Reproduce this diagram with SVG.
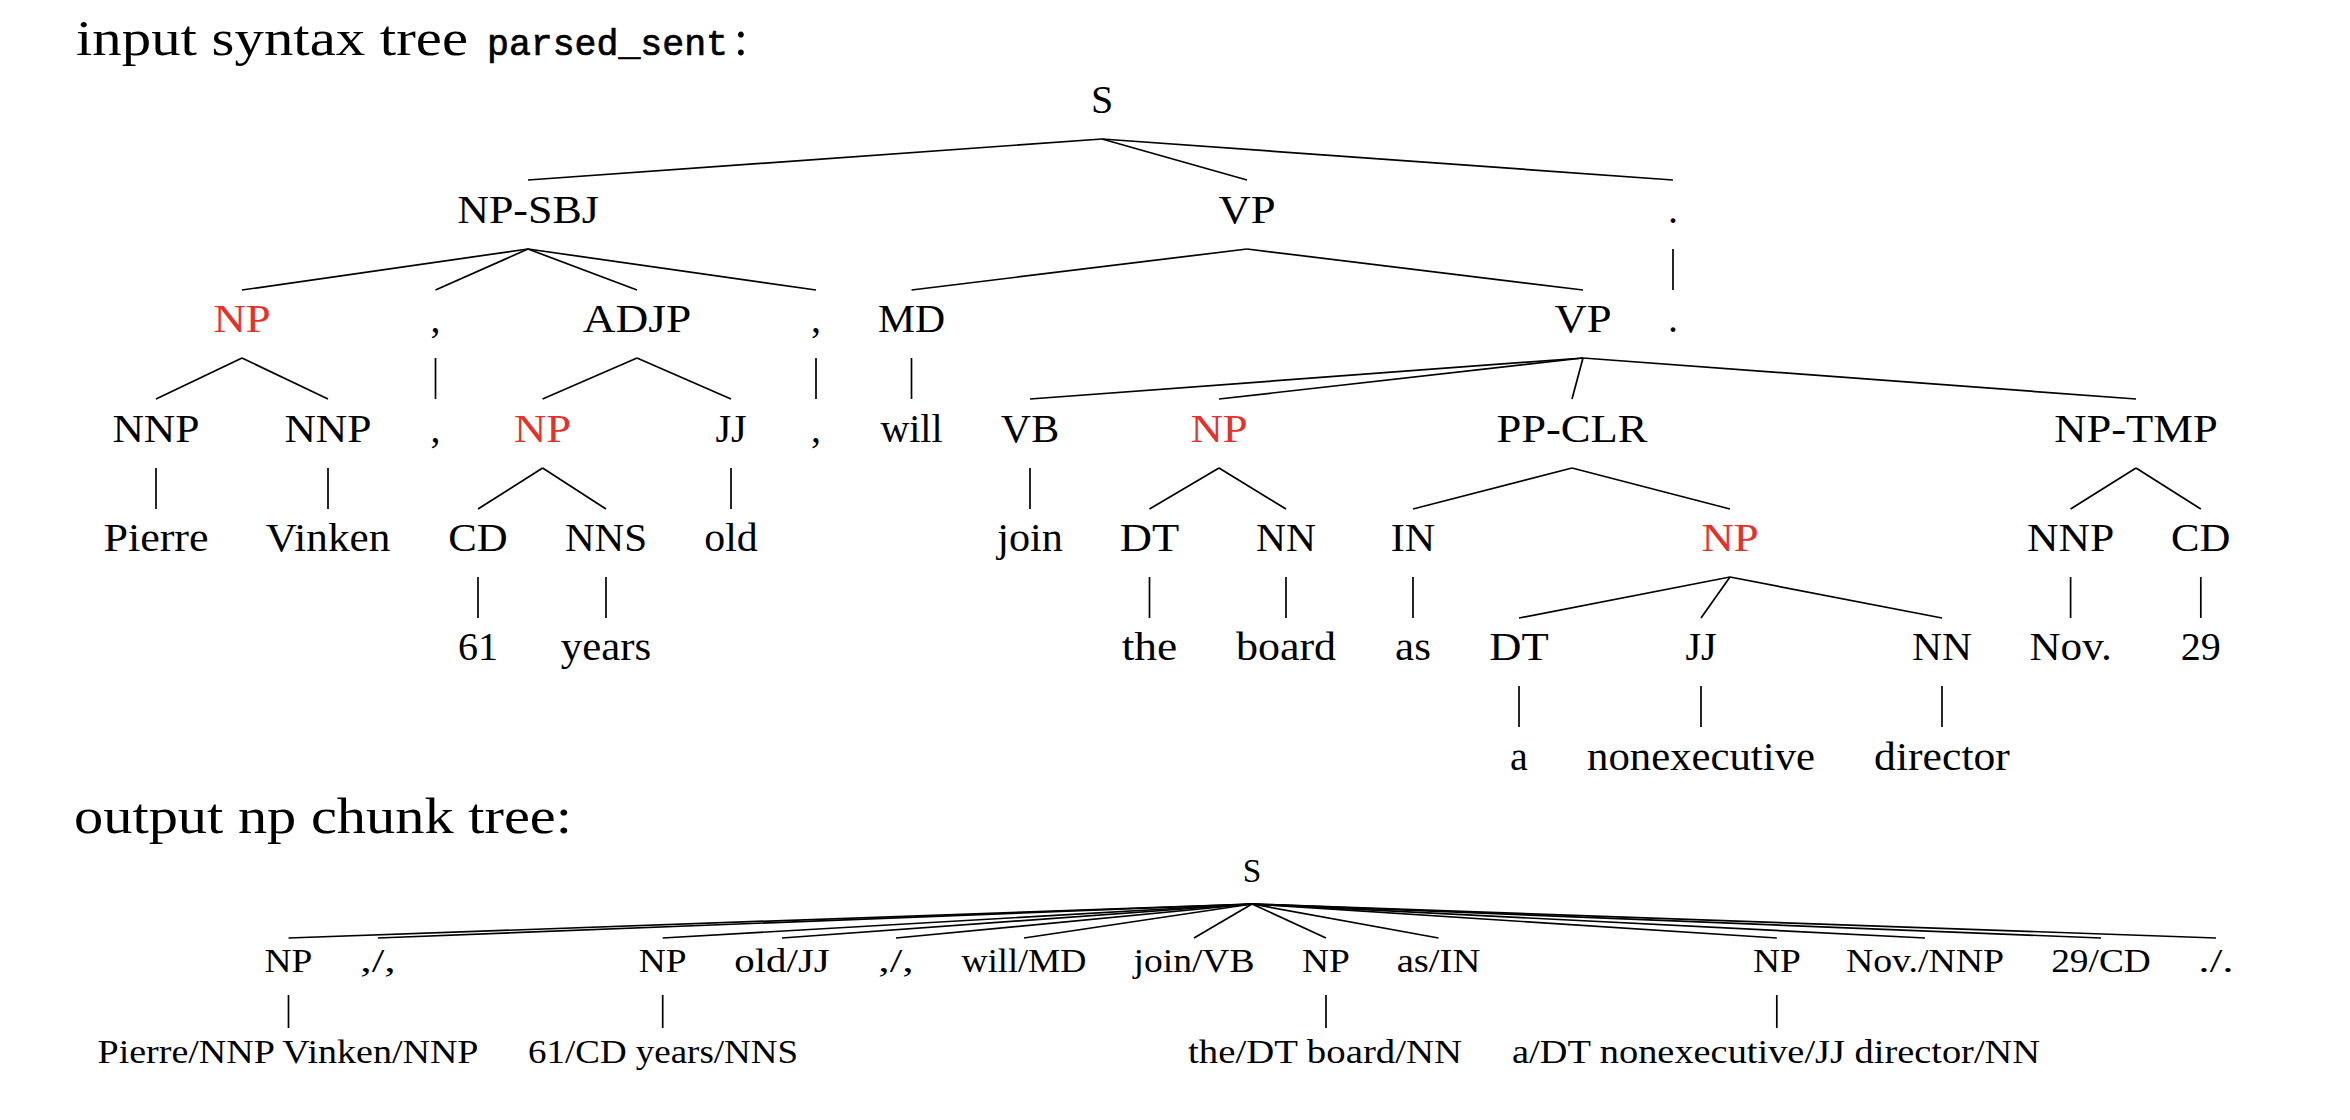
<svg xmlns="http://www.w3.org/2000/svg" width="2350" height="1120" viewBox="0 0 2350 1120">
<style>
text{font-family:"Liberation Serif","Times New Roman",serif;fill:#000}
.t{font-size:40px;text-anchor:middle}
.b{font-size:33.4px;text-anchor:middle}
.h{font-size:50px}
.tt{font-family:"Liberation Mono","Courier New",monospace;font-size:36.5px;stroke:#000;stroke-width:0.7}
.r{fill:#e8302a}
#edges line{stroke:#000;stroke-width:1.7;stroke-linecap:butt}
</style>
<rect width="2350" height="1120" fill="#fff"/>
<g id="title1">
<text class="h" x="76" y="55" textLength="392" lengthAdjust="spacingAndGlyphs">input syntax tree</text>
<text class="tt" x="487" y="55">parsed_sent</text>
<text class="h" x="734" y="55">:</text>
</g>
<g id="title2">
<text class="h" x="74" y="833" textLength="498" lengthAdjust="spacingAndGlyphs">output np chunk tree:</text>
</g>
<g id="edges">
<line x1="1102" y1="139" x2="528" y2="180"/>
<line x1="1102" y1="139" x2="1247" y2="180"/>
<line x1="1102" y1="139" x2="1673" y2="180"/>
<line x1="528" y1="249" x2="242" y2="290"/>
<line x1="528" y1="249" x2="435.5" y2="290"/>
<line x1="528" y1="249" x2="637" y2="290"/>
<line x1="528" y1="249" x2="816" y2="290"/>
<line x1="1247" y1="249" x2="911.5" y2="290"/>
<line x1="1247" y1="249" x2="1583" y2="290"/>
<line x1="1673" y1="249" x2="1673" y2="290"/>
<line x1="242" y1="358" x2="156" y2="399"/>
<line x1="242" y1="358" x2="328" y2="399"/>
<line x1="435.5" y1="358" x2="435.5" y2="399"/>
<line x1="637" y1="358" x2="542.6" y2="399"/>
<line x1="637" y1="358" x2="731" y2="399"/>
<line x1="816" y1="358" x2="816" y2="399"/>
<line x1="911.5" y1="358" x2="911.5" y2="399"/>
<line x1="1583" y1="358" x2="1030" y2="399"/>
<line x1="1583" y1="358" x2="1219" y2="399"/>
<line x1="1583" y1="358" x2="1572" y2="399"/>
<line x1="1583" y1="358" x2="2136" y2="399"/>
<line x1="156" y1="468" x2="156" y2="509"/>
<line x1="328" y1="468" x2="328" y2="509"/>
<line x1="542.6" y1="468" x2="478" y2="509"/>
<line x1="542.6" y1="468" x2="606" y2="509"/>
<line x1="731" y1="468" x2="731" y2="509"/>
<line x1="1030" y1="468" x2="1030" y2="509"/>
<line x1="1219" y1="468" x2="1149.5" y2="509"/>
<line x1="1219" y1="468" x2="1286" y2="509"/>
<line x1="1572" y1="468" x2="1413" y2="509"/>
<line x1="1572" y1="468" x2="1730" y2="509"/>
<line x1="2136" y1="468" x2="2070.6" y2="509"/>
<line x1="2136" y1="468" x2="2200.8" y2="509"/>
<line x1="478" y1="577" x2="478" y2="618"/>
<line x1="606" y1="577" x2="606" y2="618"/>
<line x1="1149.5" y1="577" x2="1149.5" y2="618"/>
<line x1="1286" y1="577" x2="1286" y2="618"/>
<line x1="1413" y1="577" x2="1413" y2="618"/>
<line x1="1730" y1="577" x2="1519" y2="618"/>
<line x1="1730" y1="577" x2="1701" y2="618"/>
<line x1="1730" y1="577" x2="1942" y2="618"/>
<line x1="2070.6" y1="577" x2="2070.6" y2="618"/>
<line x1="2200.8" y1="577" x2="2200.8" y2="618"/>
<line x1="1519" y1="686" x2="1519" y2="727"/>
<line x1="1701" y1="686" x2="1701" y2="727"/>
<line x1="1942" y1="686" x2="1942" y2="727"/>
<line x1="1252" y1="904" x2="288.5" y2="938"/>
<line x1="1252" y1="904" x2="378" y2="938"/>
<line x1="1252" y1="904" x2="662.7" y2="938"/>
<line x1="1252" y1="904" x2="782" y2="938"/>
<line x1="1252" y1="904" x2="896" y2="938"/>
<line x1="1252" y1="904" x2="1024" y2="938"/>
<line x1="1252" y1="904" x2="1194" y2="938"/>
<line x1="1252" y1="904" x2="1326" y2="938"/>
<line x1="1252" y1="904" x2="1438.5" y2="938"/>
<line x1="1252" y1="904" x2="1776.8" y2="938"/>
<line x1="1252" y1="904" x2="1925" y2="938"/>
<line x1="1252" y1="904" x2="2101" y2="938"/>
<line x1="1252" y1="904" x2="2216" y2="938"/>
<line x1="288.5" y1="995" x2="288.5" y2="1028"/>
<line x1="662.7" y1="995" x2="662.7" y2="1028"/>
<line x1="1326" y1="995" x2="1326" y2="1028"/>
<line x1="1776.8" y1="995" x2="1776.8" y2="1028"/>
</g>
<g id="top-tree">
<g id="t_S"><text class="t" x="1102" y="113">S</text></g>
<g id="t_NPSBJ"><text class="t" x="528" y="223" textLength="141.7" lengthAdjust="spacingAndGlyphs">NP-SBJ</text></g>
<g id="t_VP1"><text class="t" x="1247" y="223" textLength="57.2" lengthAdjust="spacingAndGlyphs">VP</text></g>
<g id="t_dot1"><text class="t" x="1673" y="223">.</text></g>
<g id="t_NP1"><text class="t r" x="242" y="332" textLength="57.2" lengthAdjust="spacingAndGlyphs">NP</text></g>
<g id="t_comma1"><text class="t" x="435.5" y="332">,</text></g>
<g id="t_ADJP"><text class="t" x="637" y="332" textLength="108.4" lengthAdjust="spacingAndGlyphs">ADJP</text></g>
<g id="t_comma2"><text class="t" x="816" y="332">,</text></g>
<g id="t_MD"><text class="t" x="911.5" y="332" textLength="67.2" lengthAdjust="spacingAndGlyphs">MD</text></g>
<g id="t_VP2"><text class="t" x="1583" y="332" textLength="57.2" lengthAdjust="spacingAndGlyphs">VP</text></g>
<g id="t_dot2"><text class="t" x="1673" y="332">.</text></g>
<g id="t_NNP1"><text class="t" x="156" y="442" textLength="87.2" lengthAdjust="spacingAndGlyphs">NNP</text></g>
<g id="t_NNP2"><text class="t" x="328" y="442" textLength="87.2" lengthAdjust="spacingAndGlyphs">NNP</text></g>
<g id="t_comma1w"><text class="t" x="435.5" y="442">,</text></g>
<g id="t_NP2"><text class="t r" x="542.6" y="442" textLength="57.2" lengthAdjust="spacingAndGlyphs">NP</text></g>
<g id="t_JJ1"><text class="t" x="731" y="442">JJ</text></g>
<g id="t_comma2w"><text class="t" x="816" y="442">,</text></g>
<g id="t_will"><text class="t" x="911.5" y="442" textLength="62.2" lengthAdjust="spacingAndGlyphs">will</text></g>
<g id="t_VB"><text class="t" x="1030" y="442" textLength="58.3" lengthAdjust="spacingAndGlyphs">VB</text></g>
<g id="t_NP3"><text class="t r" x="1219" y="442" textLength="57.2" lengthAdjust="spacingAndGlyphs">NP</text></g>
<g id="t_PPCLR"><text class="t" x="1572" y="442" textLength="151.1" lengthAdjust="spacingAndGlyphs">PP-CLR</text></g>
<g id="t_NPTMP"><text class="t" x="2136" y="442" textLength="163.4" lengthAdjust="spacingAndGlyphs">NP-TMP</text></g>
<g id="t_Pierre"><text class="t" x="156" y="551" textLength="105.2" lengthAdjust="spacingAndGlyphs">Pierre</text></g>
<g id="t_Vinken"><text class="t" x="328" y="551" textLength="124.5" lengthAdjust="spacingAndGlyphs">Vinken</text></g>
<g id="t_CD1"><text class="t" x="478" y="551" textLength="59.4" lengthAdjust="spacingAndGlyphs">CD</text></g>
<g id="t_NNS"><text class="t" x="606" y="551" textLength="82.2" lengthAdjust="spacingAndGlyphs">NNS</text></g>
<g id="t_old"><text class="t" x="731" y="551" textLength="53.4" lengthAdjust="spacingAndGlyphs">old</text></g>
<g id="t_join"><text class="t" x="1030" y="551" textLength="65.6" lengthAdjust="spacingAndGlyphs">join</text></g>
<g id="t_DT1"><text class="t" x="1149.5" y="551" textLength="59.4" lengthAdjust="spacingAndGlyphs">DT</text></g>
<g id="t_NN1"><text class="t" x="1286" y="551" textLength="60" lengthAdjust="spacingAndGlyphs">NN</text></g>
<g id="t_IN"><text class="t" x="1413" y="551" textLength="44.4" lengthAdjust="spacingAndGlyphs">IN</text></g>
<g id="t_NP4"><text class="t r" x="1730" y="551" textLength="57.2" lengthAdjust="spacingAndGlyphs">NP</text></g>
<g id="t_NNP3"><text class="t" x="2070.6" y="551" textLength="87.2" lengthAdjust="spacingAndGlyphs">NNP</text></g>
<g id="t_CD2"><text class="t" x="2200.8" y="551" textLength="59.4" lengthAdjust="spacingAndGlyphs">CD</text></g>
<g id="t_61"><text class="t" x="478" y="660" textLength="40" lengthAdjust="spacingAndGlyphs">61</text></g>
<g id="t_years"><text class="t" x="606" y="660" textLength="90.3" lengthAdjust="spacingAndGlyphs">years</text></g>
<g id="t_the"><text class="t" x="1149.5" y="660" textLength="55.6" lengthAdjust="spacingAndGlyphs">the</text></g>
<g id="t_board"><text class="t" x="1286" y="660" textLength="100.2" lengthAdjust="spacingAndGlyphs">board</text></g>
<g id="t_as"><text class="t" x="1413" y="660" textLength="35.8" lengthAdjust="spacingAndGlyphs">as</text></g>
<g id="t_DT2"><text class="t" x="1519" y="660" textLength="59.4" lengthAdjust="spacingAndGlyphs">DT</text></g>
<g id="t_JJ2"><text class="t" x="1701" y="660">JJ</text></g>
<g id="t_NN2"><text class="t" x="1942" y="660" textLength="60" lengthAdjust="spacingAndGlyphs">NN</text></g>
<g id="t_Nov"><text class="t" x="2070.6" y="660" textLength="82.2" lengthAdjust="spacingAndGlyphs">Nov.</text></g>
<g id="t_29"><text class="t" x="2200.8" y="660" textLength="40" lengthAdjust="spacingAndGlyphs">29</text></g>
<g id="t_a"><text class="t" x="1519" y="770">a</text></g>
<g id="t_nonexecutive"><text class="t" x="1701" y="770" textLength="228" lengthAdjust="spacingAndGlyphs">nonexecutive</text></g>
<g id="t_director"><text class="t" x="1942" y="770" textLength="135.8" lengthAdjust="spacingAndGlyphs">director</text></g>
</g>
<g id="bottom-tree">
<g id="b_S"><text class="b" x="1252" y="882">S</text></g>
<g id="b_NP1"><text class="b" x="288.5" y="972" textLength="47.8" lengthAdjust="spacingAndGlyphs">NP</text></g>
<g id="b_comma1"><text class="b" x="378" y="972" textLength="35.3" lengthAdjust="spacingAndGlyphs">,/,</text></g>
<g id="b_NP2"><text class="b" x="662.7" y="972" textLength="47.8" lengthAdjust="spacingAndGlyphs">NP</text></g>
<g id="b_old"><text class="b" x="782" y="972" textLength="95.6" lengthAdjust="spacingAndGlyphs">old/JJ</text></g>
<g id="b_comma2"><text class="b" x="896" y="972" textLength="35.3" lengthAdjust="spacingAndGlyphs">,/,</text></g>
<g id="b_will"><text class="b" x="1024" y="972" textLength="124.8" lengthAdjust="spacingAndGlyphs">will/MD</text></g>
<g id="b_join"><text class="b" x="1194" y="972" textLength="121" lengthAdjust="spacingAndGlyphs">join/VB</text></g>
<g id="b_NP3"><text class="b" x="1326" y="972" textLength="47.8" lengthAdjust="spacingAndGlyphs">NP</text></g>
<g id="b_as"><text class="b" x="1438.5" y="972" textLength="83.7" lengthAdjust="spacingAndGlyphs">as/IN</text></g>
<g id="b_NP4"><text class="b" x="1776.8" y="972" textLength="47.8" lengthAdjust="spacingAndGlyphs">NP</text></g>
<g id="b_Nov"><text class="b" x="1925" y="972" textLength="158.2" lengthAdjust="spacingAndGlyphs">Nov./NNP</text></g>
<g id="b_29"><text class="b" x="2101" y="972" textLength="99.7" lengthAdjust="spacingAndGlyphs">29/CD</text></g>
<g id="b_dot"><text class="b" x="2216" y="972" textLength="35.3" lengthAdjust="spacingAndGlyphs">./.</text></g>
<g id="b_leaf1"><text class="b" x="288" y="1063" textLength="381" lengthAdjust="spacingAndGlyphs">Pierre/NNP Vinken/NNP</text></g>
<g id="b_leaf2"><text class="b" x="663" y="1063" textLength="270" lengthAdjust="spacingAndGlyphs">61/CD years/NNS</text></g>
<g id="b_leaf3"><text class="b" x="1325" y="1063" textLength="274" lengthAdjust="spacingAndGlyphs">the/DT board/NN</text></g>
<g id="b_leaf4"><text class="b" x="1776" y="1063" textLength="528" lengthAdjust="spacingAndGlyphs">a/DT nonexecutive/JJ director/NN</text></g>
</g>
</svg>
